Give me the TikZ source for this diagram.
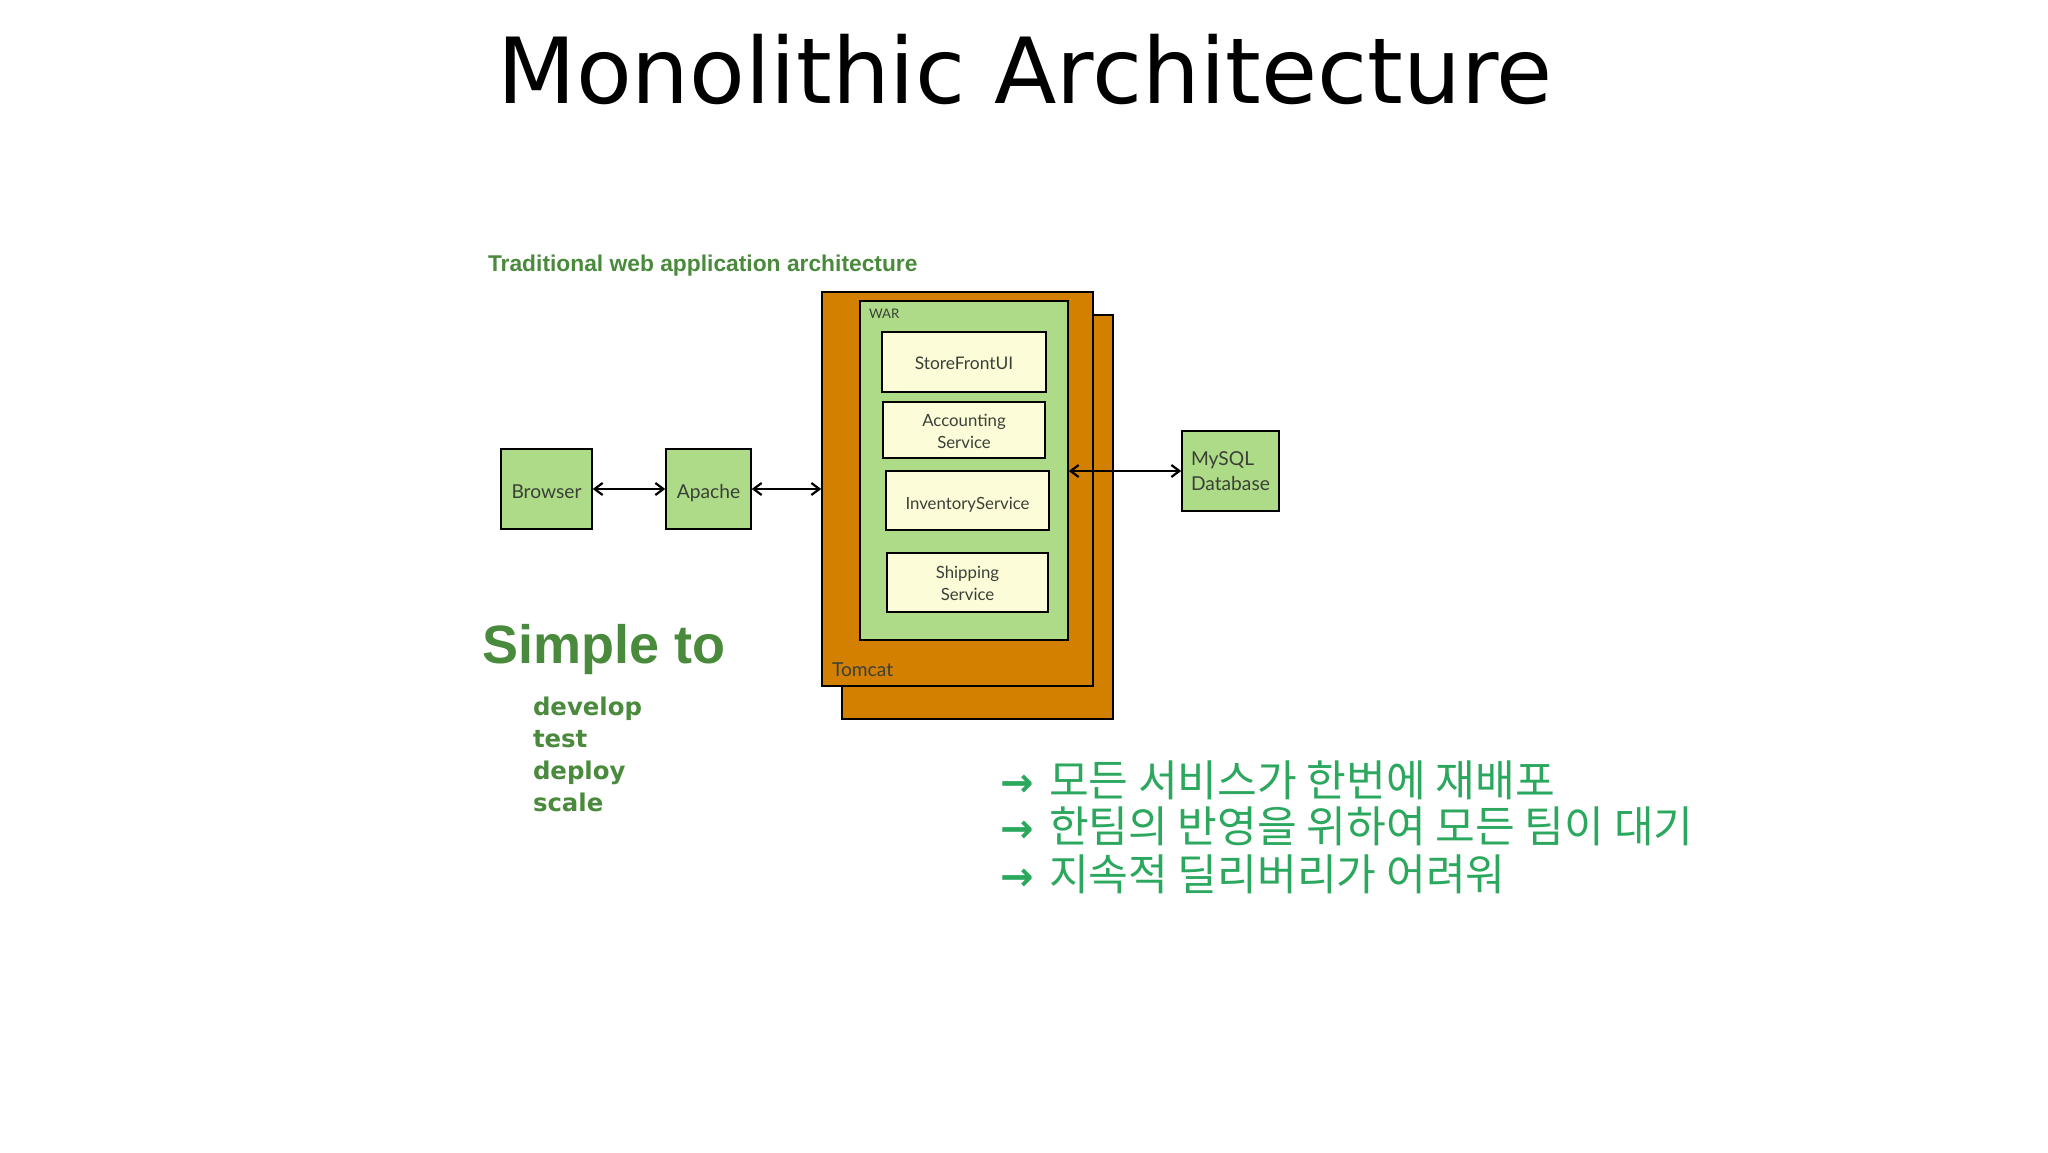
\documentclass[tikz,border=0pt]{standalone}
\usepackage{fontspec}
\setmainfont{Lato}
\newfontfamily\titlefont{DejaVu Sans}
\newfontfamily\headfont{Liberation Sans}
\newfontfamily\listfont{DejaVu Sans}
\newfontfamily\krfont{Noto Sans CJK KR}
\usetikzlibrary{arrows.meta}
\definecolor{tomcatc}{HTML}{D37F00}
\definecolor{greenbox}{HTML}{AEDB87}
\definecolor{creambox}{HTML}{FDFCD8}
\definecolor{headgreen}{HTML}{4A8A3C}
\definecolor{krgreen}{HTML}{2BA85E}
\definecolor{labelc}{HTML}{3A4038}
\newcommand{\pxbox}[6]{\node[#1,minimum width=#4*0.5pt,minimum height=#5*0.5pt,anchor=north west] (#2) at (#3) {#6};}
\newcommand{\lift}[1]{\rule[-3pt]{0pt}{#1pt}}
\newcommand{\liftb}[1]{\rule{0pt}{#1pt}}
\newcommand{\krarrow}{\makebox[24.5pt][l]{\listfont\bfseries\fontsize{20}{25}\selectfont→}}
\tikzset{
  x=0.5pt,y=-0.5pt,
  base/.style={draw=black,line width=1.3pt,inner sep=0pt,outer sep=0pt,align=center,text=labelc},
  tomcatbox/.style={base,fill=tomcatc},
  warbox/.style={base,fill=greenbox},
  greenbox/.style={base,fill=greenbox,font=\fontsize{9.6}{12.4}\selectfont},
  svcbox/.style={base,fill=creambox,font=\fontsize{8.4}{10.8}\selectfont},
  link/.style={draw=black,line width=1.1pt,{Straight Barb[length=4pt,width=6pt]}-{Straight Barb[length=4pt,width=6pt]},shorten <=0.4pt,shorten >=0.4pt},
  tx/.style={inner sep=0pt,outer sep=0pt,anchor=base west},
  kr/.style={tx,text=krgreen,font=\krfont\fontsize{21.6}{25}\selectfont},
  lst/.style={tx,text=headgreen,font=\listfont\bfseries\fontsize{12.2}{15}\selectfont},
}
\begin{document}
\begin{tikzpicture}
\useasboundingbox (0,0) rectangle (2048,1152);
\fill[white] (0,0) rectangle (2048,1152);
\node[inner sep=0pt,anchor=base,font=\titlefont\fontsize{45.6}{55}\selectfont] (title) at (1025,103) {Monolithic Architecture};
\node[tx,text=headgreen,font=\headfont\bfseries\fontsize{11.4}{13}\selectfont] (head) at (488,271) {Traditional web application architecture};

\pxbox{tomcatbox}{back}{842,315}{271}{404}{}
\pxbox{tomcatbox}{tomcat}{822,292}{271}{394}{}
\pxbox{warbox}{war}{860,301}{208}{339}{}
\pxbox{svcbox}{store}{882,332}{164}{60}{\lift{13.5}{\fontsize{8.7}{10.8}\selectfont StoreFrontUI}}
\pxbox{svcbox}{acct}{883,402}{162}{56}{\liftb{7.7}Accounting\\Service}
\pxbox{svcbox}{inv}{886,471}{163}{59}{\lift{14.8}InventoryService}
\pxbox{svcbox}{ship}{887,553}{161}{59}{\liftb{7}Shipping\\Service}
\pxbox{greenbox}{browser}{501,449}{91}{80}{\lift{15.6}Browser}
\pxbox{greenbox}{apache}{666,449}{85}{80}{\lift{15.6}Apache}
\pxbox{greenbox}{mysql}{1182,431}{97}{80}{\hspace*{1.5pt}\parbox{41pt}{\raggedright MySQL\\Database}}
\node[tx,text=labelc,font=\fontsize{6.6}{8}\selectfont] (warlabel) at (869,318) {WAR};
\node[tx,text=labelc,font=\fontsize{9.6}{12}\selectfont] (tomcatlabel) at (832,676) {Tomcat};

\draw[link] (browser.east) -- (apache.west);
\draw[link] (apache.east) -- (apache.east -| tomcat.west);
\draw[link] (war.east |- mysql.west) -- (mysql.west);

\node[tx,text=headgreen,font=\headfont\bfseries\fontsize{27}{32}\selectfont] (simple) at (482,663) {Simple to};
\node[lst] (l1) at (533,715) {develop};
\node[lst] (l2) at (533,747) {test};
\node[lst] (l3) at (533,779) {deploy};
\node[lst] (l4) at (533,811) {scale};

\node[kr] (k1) at (1000,796) {\krarrow 모든 서비스가 한번에 재배포};
\node[kr] (k2) at (1000,842) {\krarrow 한팀의 반영을 위하여 모든 팀이 대기};
\node[kr] (k3) at (1000,890) {\krarrow 지속적 딜리버리가 어려워};
\end{tikzpicture}
\end{document}
